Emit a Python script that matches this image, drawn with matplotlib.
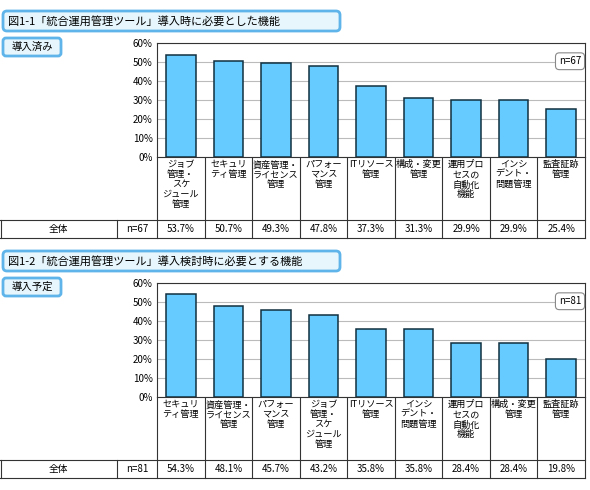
import matplotlib
matplotlib.use("Agg")
import matplotlib.pyplot as plt
from matplotlib.patches import FancyBboxPatch

plt.rcParams['font.family'] = ['Noto Sans CJK JP', 'DejaVu Sans']

cats1 = ["ジョブ\n管理・\nスケ\nジュール\n管理", "セキュリ\nティ管理", "資産管理・\nライセンス\n管理", "パフォー\nマンス\n管理",
         "ITリソース\n管理", "構成・変更\n管理", "運用プロ\nセスの\n自動化\n機能", "インシ\nデント・\n問題管理", "監査証跡\n管理"]
vals1 = [53.7, 50.7, 49.3, 47.8, 37.3, 31.3, 29.9, 29.9, 25.4]
cats2 = ["セキュリ\nティ管理", "資産管理・\nライセンス\n管理", "パフォー\nマンス\n管理", "ジョブ\n管理・\nスケ\nジュール\n管理",
         "ITリソース\n管理", "インシ\nデント・\n問題管理", "運用プロ\nセスの\n自動化\n機能", "構成・変更\n管理", "監査証跡\n管理"]
vals2 = [54.3, 48.1, 45.7, 43.2, 35.8, 35.8, 28.4, 28.4, 19.8]
yticks = [0, 10, 20, 30, 40, 50, 60]

W, H = 590, 490
fig = plt.figure(figsize=(W/100, H/100), dpi=100)
bg = fig.add_axes([0, 0, 1, 1])
bg.set_xlim(0, W); bg.set_ylim(H, 0); bg.axis('off')

L, R = 157, 585
FS = 7

def panel(title, tag, n, cats, vals, y0):
    bg.add_patch(FancyBboxPatch((3, y0 - 32), 337, 20, boxstyle="round,pad=0,rounding_size=4",
                                fc="#e6f6fc", ec="#5fb4ea", lw=2))
    bg.text(8, y0 - 22, title, fontsize=8, va='center', ha='left')
    bg.add_patch(FancyBboxPatch((3, y0 - 5), 58, 18, boxstyle="round,pad=0,rounding_size=3",
                                fc="#e6f6fc", ec="#5fb4ea", lw=2))
    bg.text(32, y0 + 4, tag, fontsize=7.5, va='center', ha='center')
    top, bot = y0, y0 + 114
    ax = fig.add_axes([L/W, 1 - bot/H, (R-L)/W, (bot-top)/H])
    x = list(range(len(vals)))
    ax.bar(x, vals, width=0.62, color="#66ccff", edgecolor="#10303f", lw=1.1, zorder=3)
    ax.set_xlim(-0.5, len(vals) - 0.5)
    ax.set_ylim(0, 60)
    ax.set_yticks(yticks)
    ax.set_yticklabels([f"{t}%" for t in yticks], fontsize=FS)
    ax.yaxis.grid(True, color="#bbbbbb", lw=0.8, zorder=0)
    ax.set_xticks([])
    ax.tick_params(axis='y', length=0, pad=3)
    for s in ax.spines.values():
        s.set_color("#333333"); s.set_linewidth(0.8)
    ax.text(0.965, 0.84, f"n={n}", transform=ax.transAxes, fontsize=FS, ha='center', va='center',
            bbox=dict(boxstyle="round,pad=0.35,rounding_size=0.4", fc='white', ec='#888888', lw=0.8))
    cw = (R - L) / len(vals)
    tb, te = bot + 63, bot + 81
    for i in range(len(vals) + 1):
        bg.plot([L + i*cw]*2, [bot, te], color='#333333', lw=0.8)
    for yy in (tb, te):
        bg.plot([0, R], [yy, yy], color='#333333', lw=0.8)
    for xx in (0.5, 117):
        bg.plot([xx, xx], [tb, te], color='#333333', lw=0.8)
    bg.text(58, (tb+te)/2, "全体", fontsize=FS, ha='center', va='center')
    bg.text(137, (tb+te)/2, f"n={n}", fontsize=FS, ha='center', va='center')
    for i, (c, v) in enumerate(zip(cats, vals)):
        cx = L + (i + 0.5) * cw
        bg.text(cx, bot + 3, c, fontsize=6.6, ha='center', va='top', linespacing=1.15)
        bg.text(cx, (tb+te)/2, f"{v:.1f}%", fontsize=FS, ha='center', va='center')

panel("図1-1「統合運用管理ツール」導入時に必要とした機能", "導入済み", 67, cats1, vals1, 43)
panel("図1-2「統合運用管理ツール」導入検討時に必要とする機能", "導入予定", 81, cats2, vals2, 283)

fig.savefig("out.png", dpi=100)
